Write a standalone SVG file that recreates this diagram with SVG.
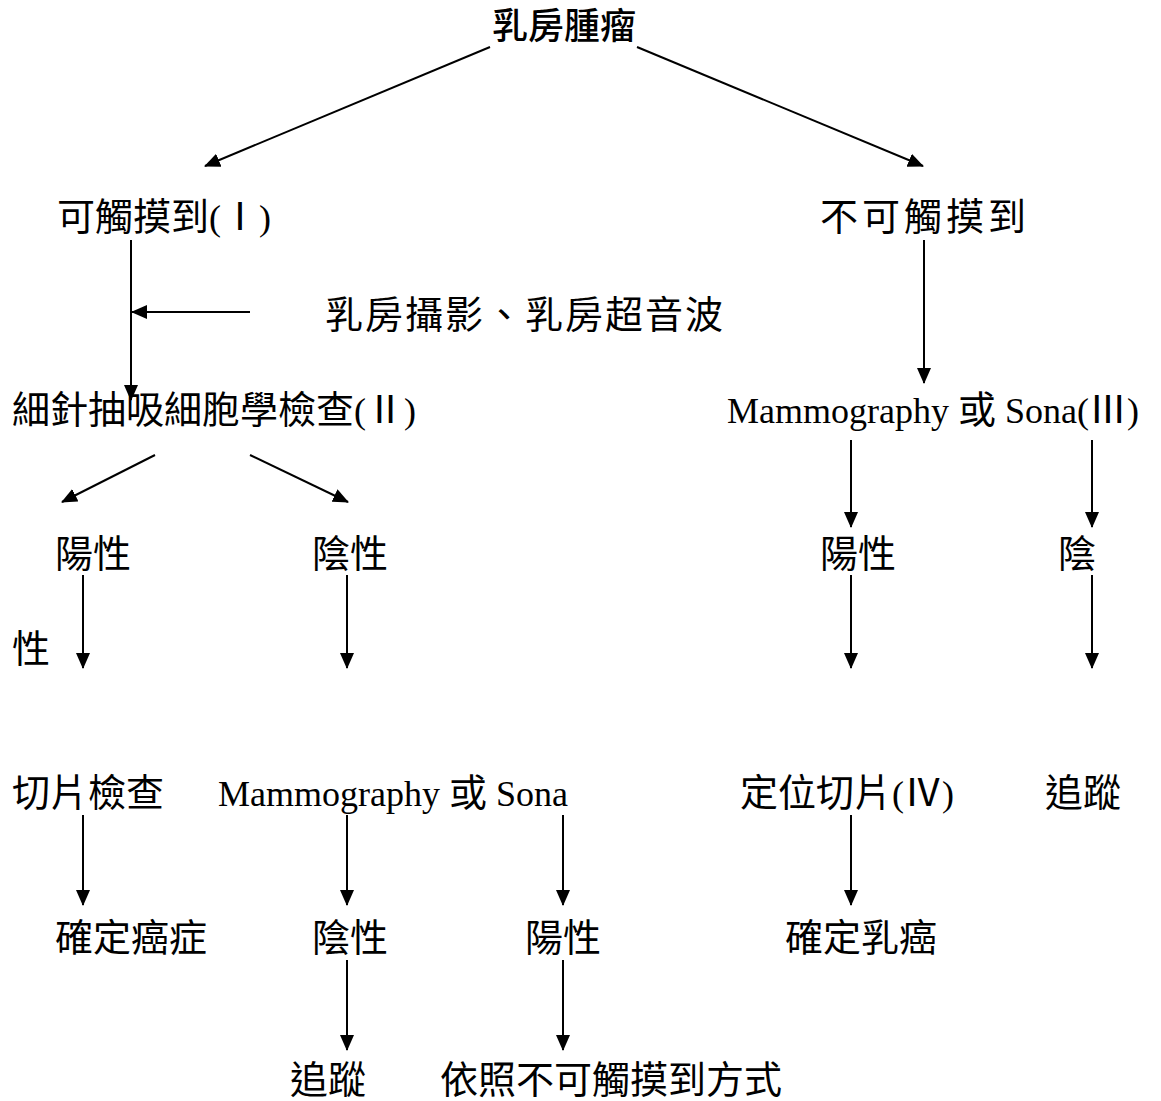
<svg xmlns="http://www.w3.org/2000/svg" width="1161" height="1101" viewBox="0 0 1161 1101">
<style>
.t{font-family:"Liberation Serif","Noto Sans CJK TC",serif;font-size:38px;fill:#000}
.l{font-size:36px}
.title{font-family:"Noto Sans CJK TC","Noto Sans",sans-serif;font-size:36px;font-weight:500;fill:#000}
.c line{stroke:#000;stroke-width:2;marker-end:url(#ah)}
</style>
<defs>
<marker id="ah" viewBox="0 0 16 14" refX="15" refY="7" markerWidth="16" markerHeight="14" markerUnits="userSpaceOnUse" orient="auto">
<path d="M0,0 L16,7 L0,14 Z" fill="#000"/>
</marker>
</defs>
<rect width="1161" height="1101" fill="#fff"/>
<g id="n-title"><text class="title" x="492" y="39">乳房腫瘤</text></g>
<g id="n-palp"><text class="t" x="57" y="230">可觸摸到<tspan class="l">(</tspan>Ⅰ<tspan class="l">)</tspan></text></g>
<g id="n-nonpalp"><text class="t" x="820" y="230" letter-spacing="4">不可觸摸到</text></g>
<g id="n-imaging"><text class="t" x="325" y="328" letter-spacing="2">乳房攝影、乳房超音波</text></g>
<g id="n-fna"><text class="t" x="12" y="423">細針抽吸細胞學檢查<tspan class="l">(</tspan>Ⅱ<tspan class="l">)</tspan></text></g>
<g id="n-mammo3"><text class="t" x="727" y="423"><tspan class="l">Mammography </tspan>或<tspan class="l"> Sona(</tspan>Ⅲ<tspan class="l">)</tspan></text></g>
<g id="n-pos1"><text class="t" x="55" y="567">陽性</text></g>
<g id="n-neg1"><text class="t" x="312" y="567">陰性</text></g>
<g id="n-pos3"><text class="t" x="820" y="567">陽性</text></g>
<g id="n-neg3"><text class="t" x="1058" y="567">陰</text></g>
<g id="n-xing"><text class="t" x="12" y="662">性</text></g>
<g id="n-biopsy"><text class="t" x="12" y="806">切片檢查</text></g>
<g id="n-mammo"><text class="t" x="218" y="806"><tspan class="l">Mammography </tspan>或<tspan class="l"> Sona</tspan></text></g>
<g id="n-loc"><text class="t" x="740" y="806">定位切片<tspan class="l">(</tspan>Ⅳ<tspan class="l">)</tspan></text></g>
<g id="n-follow3"><text class="t" x="1045" y="806">追蹤</text></g>
<g id="n-cancer"><text class="t" x="55" y="951">確定癌症</text></g>
<g id="n-neg2"><text class="t" x="312" y="951">陰性</text></g>
<g id="n-pos2"><text class="t" x="525" y="951">陽性</text></g>
<g id="n-breastca"><text class="t" x="785" y="951">確定乳癌</text></g>
<g id="n-follow2"><text class="t" x="290" y="1093">追蹤</text></g>
<g id="n-nonpalpway"><text class="t" x="440" y="1093">依照不可觸摸到方式</text></g>
<g id="connectors" class="c">
<line x1="490" y1="47" x2="205" y2="166"/>
<line x1="637" y1="47" x2="923" y2="166"/>
<line x1="131" y1="240" x2="131" y2="400"/>
<line x1="250" y1="312" x2="132" y2="312"/>
<line x1="924" y1="240" x2="924" y2="383"/>
<line x1="155" y1="455" x2="62" y2="502"/>
<line x1="250" y1="455" x2="348" y2="502"/>
<line x1="851" y1="440" x2="851" y2="527"/>
<line x1="1092" y1="440" x2="1092" y2="527"/>
<line x1="83" y1="575" x2="83" y2="668"/>
<line x1="347" y1="575" x2="347" y2="668"/>
<line x1="851" y1="575" x2="851" y2="668"/>
<line x1="1092" y1="575" x2="1092" y2="668"/>
<line x1="83" y1="815" x2="83" y2="905"/>
<line x1="347" y1="815" x2="347" y2="905"/>
<line x1="563" y1="815" x2="563" y2="905"/>
<line x1="851" y1="815" x2="851" y2="905"/>
<line x1="347" y1="960" x2="347" y2="1050"/>
<line x1="563" y1="960" x2="563" y2="1050"/>
</g>
</svg>
